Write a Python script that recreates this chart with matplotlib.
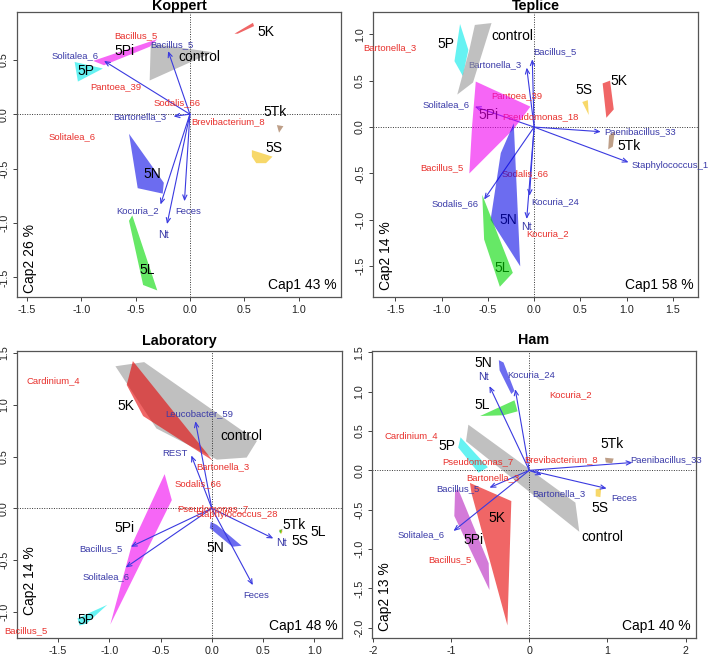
import matplotlib
matplotlib.use("Agg")
import matplotlib.pyplot as plt

plt.rcParams['font.family'] = ['Liberation Sans', 'DejaVu Sans']

# ---------------- Koppert ----------------
kop_groups = ['5K', '5Pi', '5P', 'control', '5Tk', '5S', '5N', '5L']
kop_hull_x = [[0.41, 0.58, 0.59, 0.44],
              [-0.89, -0.30, -0.37, -0.79],
              [-1.06, -0.80, -1.03],
              [-0.36, 0.21, -0.37],
              [0.80, 0.86, 0.82],
              [0.57, 0.76, 0.70, 0.61, 0.57],
              [-0.56, -0.24, -0.25, -0.48],
              [-0.53, -0.30, -0.43, -0.56]]
kop_hull_y = [[0.74, 0.84, 0.81, 0.74],
              [0.49, 0.69, 0.62, 0.45],
              [0.48, 0.42, 0.30],
              [0.65, 0.57, 0.31],
              [-0.10, -0.11, -0.17],
              [-0.33, -0.39, -0.45, -0.45, -0.39],
              [-0.18, -0.63, -0.73, -0.68],
              [-0.93, -1.62, -1.57, -0.98]]
kop_grp_lx = [0.70, -0.60, -0.96, 0.09, 0.78, 0.77, -0.35, -0.39]
kop_grp_ly = [0.76, 0.58, 0.40, 0.53, 0.02, -0.31, -0.55, -1.43]
kop_vec_names = ['Solitalea_6', 'Bacillus_5', 'Bartonella_3', 'Kocuria_2', 'Nt', 'Feces']
kop_vec_x = [-0.79, -0.20, -0.15, -0.27, -0.21, -0.05]
kop_vec_y = [0.49, 0.58, -0.02, -0.83, -1.01, -0.80]
kop_vec_lx = [-1.06, -0.17, -0.46, -0.48, -0.24, -0.02]
kop_vec_ly = [0.54, 0.64, -0.02, -0.89, -1.11, -0.89]
kop_sp_names = ['Bacillus_5', 'Pantoea_39', 'Sodalis_66', 'Brevibacterium_8', 'Solitalea_6']
kop_sp_x = [-0.50, -0.68, -0.12, 0.35, -1.08]
kop_sp_y = [0.72, 0.25, 0.11, -0.07, -0.21]

# ---------------- Teplice ----------------
tep_groups = ['5P', 'control', '5Pi', '5N', '5L', '5S', '5K', '5Tk']
tep_hull_x = [[-0.80, -0.71, -0.77, -0.86],
              [-0.64, -0.46, -0.66, -0.83, -0.70],
              [-0.63, -0.04, -0.22, -0.70, -0.67],
              [-0.22, -0.15, -0.47, -0.36],
              [-0.56, -0.23, -0.37, -0.54],
              [0.52, 0.58, 0.59],
              [0.74, 0.82, 0.86, 0.78],
              [0.81, 0.87, 0.85, 0.80]]
tep_hull_y = [[1.11, 0.83, 0.55, 0.71],
              [1.10, 1.12, 0.48, 0.35, 0.83],
              [0.49, 0.22, -0.02, -0.50, 0.01],
              [0.04, -1.50, -1.00, -0.28],
              [-0.73, -1.57, -1.72, -1.21],
              [0.27, 0.29, 0.13],
              [0.47, 0.50, 0.19, 0.10],
              [-0.09, -0.05, -0.21, -0.24]]
tep_grp_lx = [-0.95, -0.23, -0.49, -0.28, -0.35, 0.54, 0.92, 1.03]
tep_grp_ly = [0.89, 0.98, 0.13, -1.00, -1.52, 0.40, 0.50, -0.20]
tep_vec_names = ['Bacillus_5', 'Bartonella_3', 'Solitalea_6', 'Paenibacillus_33',
                 'Staphylococcus_1', 'Sodalis_66', 'Kocuria_24', 'Nt']
tep_vec_x = [-0.02, -0.08, -0.64, 0.72, 1.02, -0.54, -0.05, -0.08]
tep_vec_y = [0.73, 0.64, 0.22, -0.05, -0.38, -0.78, -0.74, -0.99]
tep_vec_lx = [0.22, -0.42, -0.95, 1.14, 1.47, -0.85, 0.23, -0.08]
tep_vec_ly = [0.81, 0.67, 0.24, -0.05, -0.41, -0.83, -0.80, -1.08]
tep_sp_names = ['Bartonella_3', 'Pantoea_39', 'Pseudomonas_18', 'Bacillus_5', 'Sodalis_66', 'Kocuria_2']
tep_sp_x = [-1.56, -0.19, 0.07, -1.00, -0.10, 0.14]
tep_sp_y = [0.86, 0.34, 0.11, -0.44, -0.50, -1.15]

# ---------------- Laboratory ----------------
lab_groups = ['control', '5K', '5Pi', '5P', '5N', '5Tk', '5S', '5L']
lab_hull_x = [[-0.94, -0.66, 0.44, 0.34, 0.05, -0.54, -0.82],
              [-0.77, 0.01, -0.67, -0.83],
              [-0.46, -0.39, -0.99, -0.78],
              [-1.02, -1.31, -1.29, -1.22],
              [-0.01, 0.05, 0.29, 0.20, -0.02],
              [0.655, 0.69, 0.68],
              [0.66, 0.69, 0.675],
              [0.655, 0.685, 0.67]]
lab_hull_y = [[1.37, 1.41, 0.65, 0.49, 0.47, 0.77, 1.19],
              [1.42, 0.46, 0.89, 1.19],
              [0.33, 0.08, -1.12, -0.35],
              [-0.93, -1.06, -1.13, -1.11],
              [-0.13, -0.16, -0.36, -0.37, -0.19],
              [-0.21, -0.20, -0.24],
              [-0.20, -0.22, -0.25],
              [-0.22, -0.20, -0.245]]
lab_grp_lx = [0.29, -0.84, -0.85, -1.23, 0.03, 0.80, 0.86, 1.04]
lab_grp_ly = [0.70, 0.99, -0.19, -1.08, -0.38, -0.16, -0.31, -0.23]
lab_vec_names = ['Leucobacter_59', 'REST', 'Bacillus_5', 'Solitalea_6', 'Nt', 'Feces']
lab_vec_x = [-0.16, -0.20, -0.79, -0.84, 0.60, 0.40]
lab_vec_y = [0.84, 0.51, -0.37, -0.57, -0.29, -0.74]
lab_vec_lx = [-0.12, -0.36, -1.08, -1.03, 0.68, 0.43]
lab_vec_ly = [0.91, 0.53, -0.39, -0.66, -0.33, -0.84]
lab_sp_names = ['Cardinium_4', 'Bartonella_3', 'Sodalis_66', 'Pseudomonas_7', 'Staphylococcus_28', 'Bacillus_5']
lab_sp_x = [-1.55, 0.11, -0.13, 0.01, 0.24, -1.81]
lab_sp_y = [1.23, 0.40, 0.24, 0.00, -0.06, -1.18]

# ---------------- Ham ----------------
ham_groups = ['control', '5N', '5L', '5P', '5K', '5Pi', '5Tk', '5S']
ham_hull_x = [[-0.78, 0.59, 0.64, -0.81],
              [-0.39, -0.33, -0.19, -0.23, -0.38],
              [-0.63, -0.19, -0.15, -0.33],
              [-0.88, -0.53, -0.65, -0.91],
              [-0.76, -0.23, -0.28, -0.74],
              [-0.95, -0.91, -0.52, -0.51, -0.96],
              [0.97, 1.08, 1.06, 0.98],
              [0.85, 0.92, 0.91, 0.85]]
ham_hull_y = [[0.58, -0.41, -0.78, 0.37],
              [1.40, 1.37, 1.01, 0.97, 1.27],
              [0.69, 0.89, 0.75, 0.70],
              [0.42, 0.04, -0.03, 0.29],
              [-0.16, -0.39, -1.97, -0.29],
              [-0.26, -0.24, -1.18, -1.52, -0.58],
              [0.16, 0.15, 0.09, 0.10],
              [-0.24, -0.23, -0.34, -0.33]]
ham_grp_lx = [0.93, -0.59, -0.60, -1.05, -0.42, -0.72, 1.06, 0.91]
ham_grp_ly = [-0.85, 1.37, 0.83, 0.31, -0.60, -0.89, 0.33, -0.48]
ham_vec_names = ['Nt', 'Kocuria_24', 'Paenibacillus_33', 'Feces', 'Bartonella_3', 'Bacillus_5', 'Solitalea_6']
ham_vec_x = [-0.51, -0.18, 1.32, 0.99, 0.16, -0.51, -0.97]
ham_vec_y = [1.07, 1.03, 0.10, -0.23, -0.06, -0.22, -0.77]
ham_vec_lx = [-0.59, 0.02, 1.75, 1.21, 0.38, -0.91, -1.38]
ham_vec_ly = [1.19, 1.21, 0.13, -0.36, -0.30, -0.23, -0.82]
ham_sp_names = ['Kocuria_2', 'Cardinium_4', 'Pseudomonas_7', 'Brevibacterium_8', 'Bartonella_3', 'Bacillus_5']
ham_sp_x = [0.53, -1.51, -0.66, 0.41, -0.47, -1.02]
ham_sp_y = [0.96, 0.44, 0.11, 0.13, -0.09, -1.14]

# ---------------- styles ----------------
GROUP_COLORS = {'5K': '#e60000', '5Pi': '#f000f0', '5P': '#00eaea', 'control': '#969696',
                '5N': '#0a0ae6', '5L': '#00d900', '5S': '#f3be07', '5Tk': '#945f39'}
POLY_ALPHA = 0.6
RED = '#e8302c'
BLUE_TXT = '#3a3aa8'
BLUE_ARR = '#3a3ae0'

panels = [
    dict(title='Koppert', rect=[0.0240, 0.5473, 0.4570, 0.4345], xlim=(-1.59, 1.39), ylim=(-1.68, 0.94),
         xt=[-1.5, -1.0, -0.5, 0.0, 0.5, 1.0], xtl=['-1.5', '-1.0', '-0.5', '0.0', '0.5', '1.0'],
         yt=[-1.5, -1.0, -0.5, 0.0, 0.5], ytl=['-1.5', '-1.0', '-0.5', '0.0', '0.5'],
         cap1='Cap1 43 %', cap2='Cap2 26 %', title_dy=2.3, cap2_y=0.015, poly_top=False,
         groups=kop_groups, hx=kop_hull_x, hy=kop_hull_y, glx=kop_grp_lx, gly=kop_grp_ly,
         vn=kop_vec_names, vx=kop_vec_x, vy=kop_vec_y, vlx=kop_vec_lx, vly=kop_vec_ly,
         sn=kop_sp_names, sx=kop_sp_x, sy=kop_sp_y, override={}),
    dict(title='Teplice', rect=[0.5261, 0.5473, 0.4584, 0.4345], xlim=(-1.74, 1.77), ylim=(-1.83, 1.24),
         xt=[-1.5, -1.0, -0.5, 0.0, 0.5, 1.0, 1.5], xtl=['-1.5', '-1.0', '-0.5', '0.0', '0.5', '1.0', '1.5'],
         yt=[-1.5, -1.0, -0.5, 0.0, 0.5, 1.0], ytl=['-1.5', '-1.0', '-0.5', '0.0', '0.5', '1.0'],
         cap1='Cap1 58 %', cap2='Cap2 14 %', title_dy=2.3, cap2_y=0.025, poly_top=True,
         groups=tep_groups, hx=tep_hull_x, hy=tep_hull_y, glx=tep_grp_lx, gly=tep_grp_ly,
         vn=tep_vec_names, vx=tep_vec_x, vy=tep_vec_y, vlx=tep_vec_lx, vly=tep_vec_ly,
         sn=tep_sp_names, sx=tep_sp_x, sy=tep_sp_y, override={}),
    dict(title='Laboratory', rect=[0.0240, 0.0274, 0.4584, 0.4380], xlim=(-1.90, 1.27), ylim=(-1.25, 1.52),
         xt=[-1.5, -1.0, -0.5, 0.0, 0.5, 1.0], xtl=['-1.5', '-1.0', '-0.5', '0.0', '0.5', '1.0'],
         yt=[-1.0, -0.5, 0.0, 0.5, 1.0, 1.5], ytl=['-1.0', '-0.5', '0.0', '0.5', '1.0', '1.5'],
         cap1='Cap1 48 %', cap2='Cap2 14 %', title_dy=6.0, cap2_y=0.08, poly_top=False,
         groups=lab_groups, hx=lab_hull_x, hy=lab_hull_y, glx=lab_grp_lx, gly=lab_grp_ly,
         vn=lab_vec_names, vx=lab_vec_x, vy=lab_vec_y, vlx=lab_vec_lx, vly=lab_vec_ly,
         sn=lab_sp_names, sx=lab_sp_x, sy=lab_sp_y, override={}),
    dict(title='Ham', rect=[0.5251, 0.0274, 0.4561, 0.4380], xlim=(-2.01, 2.13), ylim=(-2.13, 1.52),
         xt=[-2, -1, 0, 1, 2], xtl=['-2', '-1', '0', '1', '2'],
         yt=[-2.0, -1.5, -1.0, -0.5, 0.0, 0.5, 1.0, 1.5],
         ytl=['-2.0', '-1.5', '-1.0', '-0.5', '0.0', '0.5', '1.0', '1.5'],
         cap1='Cap1 40 %', cap2='Cap2 13 %', title_dy=6.5, cap2_y=0.025, poly_top=False,
         groups=ham_groups, hx=ham_hull_x, hy=ham_hull_y, glx=ham_grp_lx, gly=ham_grp_ly,
         vn=ham_vec_names, vx=ham_vec_x, vy=ham_vec_y, vlx=ham_vec_lx, vly=ham_vec_ly,
         sn=ham_sp_names, sx=ham_sp_x, sy=ham_sp_y, override={'5Pi': '#b721be'}),
]

fig = plt.figure(figsize=(7.09, 6.56), dpi=100)

for p in panels:
    ax = fig.add_axes(p['rect'])
    ax.set_xlim(*p['xlim'])
    ax.set_ylim(*p['ylim'])
    ax.set_xticks(p['xt'])
    ax.set_xticklabels(p['xtl'])
    ax.set_yticks(p['yt'])
    ax.set_yticklabels(p['ytl'], rotation=90, va='center')
    ax.tick_params(axis='both', direction='out', length=3.2, width=0.6, pad=2.5,
                   labelsize=7.7, colors='#222222')
    for s in ax.spines.values():
        s.set_color('#555555')
        s.set_linewidth(0.9)
    h_px = p['rect'][3] * 656
    ax.text(0.5, 1 + p['title_dy'] / h_px, p['title'], transform=ax.transAxes,
            ha='center', va='baseline', fontsize=10.3, fontweight='bold')

    zpoly = 5 if p['poly_top'] else 1
    ax.axhline(0, color='#333333', ls=(0, (1, 1.5)), lw=0.7, zorder=2)
    ax.axvline(0, color='#333333', ls=(0, (1, 1.5)), lw=0.7, zorder=2)

    for g, xs, ys in zip(p['groups'], p['hx'], p['hy']):
        col = p['override'].get(g, GROUP_COLORS[g])
        ax.fill(xs, ys, color=col, alpha=POLY_ALPHA, lw=0, zorder=zpoly)

    for name, x, y, lx, ly in zip(p['vn'], p['vx'], p['vy'], p['vlx'], p['vly']):
        ax.annotate('', xy=(x, y), xytext=(0, 0),
                    arrowprops=dict(arrowstyle='->,head_length=0.35,head_width=0.15',
                                    color=BLUE_ARR, lw=0.8, shrinkA=0, shrinkB=0),
                    zorder=3)
        ax.text(lx, ly, name, color=BLUE_TXT, fontsize=7.7 if name == 'Nt' else 6.8,
                ha='center', va='center', zorder=4, clip_on=False)

    for name, x, y in zip(p['sn'], p['sx'], p['sy']):
        ax.text(x, y, name, color=RED, fontsize=6.8, ha='center', va='center', zorder=4)

    for g, lx, ly in zip(p['groups'], p['glx'], p['gly']):
        ax.text(lx, ly, g, color='black', fontsize=10, ha='center', va='center', zorder=4)

    ax.text(0.985, 0.018, p['cap1'], transform=ax.transAxes, ha='right', va='bottom',
            fontsize=10, zorder=6)
    ax.text(0.018, p['cap2_y'], p['cap2'], transform=ax.transAxes, ha='left', va='bottom',
            rotation=90, fontsize=10, zorder=6)

fig.savefig('out.png', dpi=100)
